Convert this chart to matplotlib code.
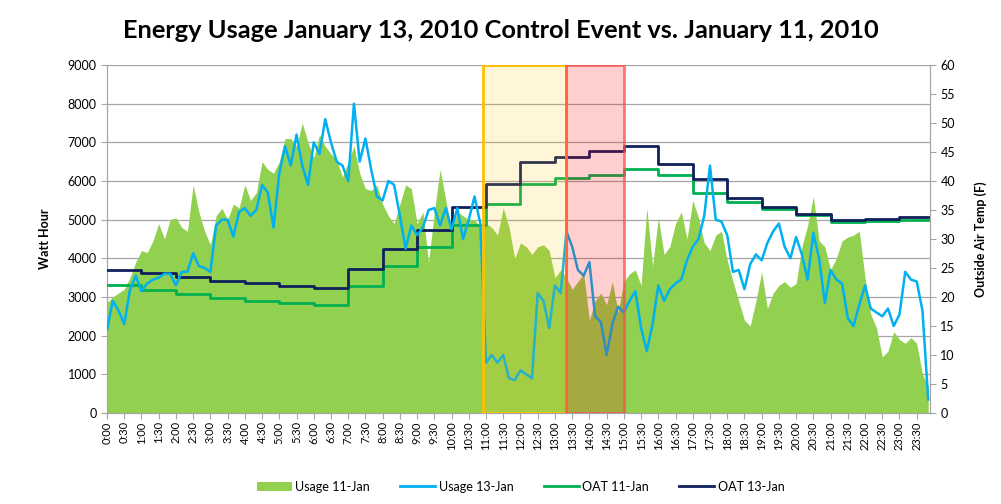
import numpy as np
import matplotlib
matplotlib.use("Agg")
import matplotlib.pyplot as plt
from matplotlib.lines import Line2D
from matplotlib.patches import Patch

plt.rcParams["font.family"] = ["Lato", "DejaVu Sans"]

# --- data ------------------------------------------------------------------
STEP_MIN = 10  # usage sampled every 10 minutes, starting 0:00

USAGE_11JAN = [
    2850, 3000, 3100, 3200, 3500, 3900, 4200, 4150, 4450, 4900, 4500, 5000,
    5050, 4800, 4700, 5900, 5200, 4700, 4350, 5100, 5300, 5000, 5400, 5300,
    5900, 5500, 5700, 6500, 6300, 6200, 6500, 7100, 7100, 6900, 7500, 7000,
    6600, 7200, 6900, 6700, 6550, 6100, 6500, 6900, 6200, 5800, 5750, 5900,
    5400, 5100, 4900, 5400, 5900, 5800, 4900, 5200, 3900, 5200, 6300, 5500,
    4750, 5200, 5100, 5000, 5000, 4800, 4900, 4800, 4600, 5300, 4800, 4000,
    4400, 4300, 4100, 4300, 4350, 4200, 3500, 3700, 3500, 3200, 3400, 3600,
    2400, 2900, 3100, 2800, 3400, 2600, 3400, 3600, 3700, 3300, 5300, 3800,
    5050, 4100, 4300, 4900, 5200, 4500, 5500, 5050, 4400, 4200, 4600, 4700,
    3950, 3400, 2900, 2400, 2250, 2900, 3650, 2700, 3100, 3300, 3400, 3250,
    3350, 4300, 4850, 5600, 4450, 4300, 3700, 4000, 4450, 4550, 4600, 4700,
    3500, 2550, 2200, 1450, 1600, 2100, 1900, 1800, 1950, 1800, 1000, 700,
]

USAGE_13JAN = [
    2150, 2900, 2650, 2300, 3180, 3550, 3150, 3350, 3450, 3500, 3600, 3600,
    3300, 3650, 3650, 4130, 3800, 3750, 3650, 4850, 5000, 5000, 4560, 5200,
    5300, 5100, 5250, 5900, 5700, 4800, 6200, 6900, 6400, 7200, 6400, 5900,
    7000, 6700, 7600, 7000, 6500, 6400, 6000, 8000, 6500, 7100, 6300, 5600,
    5500, 6000, 5900, 5100, 4250, 4850, 4600, 4800, 5250, 5300, 4850, 5300,
    4750, 5300, 4500, 5000, 5600, 4900, 1300, 1500, 1300, 1500, 900, 850,
    1100, 1000, 900, 3100, 2900, 2200, 3300, 3100, 4700, 4300, 3700, 3550,
    3900, 2500, 2350, 1500, 2300, 2750, 2600, 2900, 3150, 2200, 1600, 2300,
    3300, 2900, 3200, 3350, 3450, 3950, 4300, 4500, 5100, 6400, 5000, 4950,
    4600, 3650, 3700, 3200, 3850, 4100, 3950, 4400, 4700, 4900, 4300, 4000,
    4550, 4100, 3450, 4650, 4000, 2850, 3700, 3450, 3350, 2450, 2250, 2800,
    3300, 2700, 2600, 2500, 2700, 2250, 2550, 3650, 3450, 3400, 2650, 350,
]

# hourly outside air temperature (F), hours 0..23
OAT_11JAN = [22.0, 21.2, 20.5, 19.8, 19.3, 19.0, 18.7, 21.9, 25.3, 28.7, 32.4, 36.0,
             39.5, 40.5, 41.1, 42.1, 41.0, 38.0, 36.3, 35.2, 34.1, 33.0, 33.1, 33.2]
OAT_13JAN = [24.7, 24.1, 23.4, 22.8, 22.4, 21.9, 21.5, 24.8, 28.2, 31.5, 35.6, 39.5,
             43.2, 44.1, 45.2, 46.1, 43.0, 40.3, 37.0, 35.6, 34.3, 33.3, 33.4, 33.8]

# highlighted periods (minutes after midnight)
PRECOOL_SPAN = (655, 800)
EVENT_SPAN = (800, 900)

TICK_MIN = list(range(0, 24 * 60, 30))
TICK_LABELS = [f"{m // 60}:{m % 60:02d}" for m in TICK_MIN]

C_AREA = "#92D050"
C_BLUE = "#00B0F0"
C_GREEN = "#00B050"
C_NAVY = "#0F1F5C"
C_GRID = "#A6A6A6"

fig = plt.figure(figsize=(10.01, 5.04), dpi=100)
ax = fig.add_axes([0.1069, 0.1806, 0.8221, 0.6904])
ax2 = ax.twinx()

t = np.arange(len(USAGE_11JAN)) * STEP_MIN
ax.fill_between(t, 0, USAGE_11JAN, color=C_AREA, lw=0, zorder=2)

t_hr = np.append(np.arange(len(OAT_11JAN)) * 60, t[-1])
ax2.plot(t_hr, OAT_11JAN + OAT_11JAN[-1:], color=C_GREEN, lw=2.0,
         drawstyle="steps-post", zorder=3)
ax2.plot(t_hr, OAT_13JAN + OAT_13JAN[-1:], color=C_NAVY, lw=2.0,
         drawstyle="steps-post", zorder=3)
ax2.plot(t, np.array(USAGE_13JAN) * 60 / 9000, color=C_BLUE, lw=1.8, zorder=4)

ax2.axvspan(*PRECOOL_SPAN, facecolor=(1.0, 0.75, 0.0, 0.15),
            edgecolor="#FFC000", lw=2.0, zorder=6)
ax2.axvspan(*EVENT_SPAN, facecolor=(1.0, 0.0, 0.0, 0.19),
            edgecolor=(1.0, 0.3, 0.3, 0.75), lw=2.0, zorder=6)

ax.set_xlim(0, 1433)
ax.set_ylim(0, 9000)
ax.set_yticks(range(0, 9001, 1000))
ax2.set_ylim(0, 60)
ax2.set_yticks(range(0, 61, 5))
ax.set_xticks(TICK_MIN)
ax.set_xticklabels(TICK_LABELS, rotation=90, fontsize=8)

ax.grid(axis="y", color=C_GRID, lw=0.9, zorder=0)
ax.set_axisbelow(True)
for a in (ax, ax2):
    a.spines["top"].set_visible(False)
    for sp in ("left", "right", "bottom"):
        a.spines[sp].set_color(C_GRID)
    a.tick_params(colors=C_GRID, labelcolor="black", labelsize=9, length=4)
ax.tick_params(axis="x", labelsize=8, pad=2)

ax.set_ylabel("Watt Hour", fontsize=9, fontweight="bold", labelpad=12)
ax2.set_ylabel("Outside Air Temp (F)", fontsize=9, fontweight="bold", labelpad=14)

fig.suptitle("Energy Usage January 13, 2010 Control Event vs. January 11, 2010",
             fontsize=18.3, fontweight="bold", y=0.962)

handles = [
    Patch(facecolor=C_AREA, edgecolor="none"),
    Line2D([0], [0], color=C_BLUE, lw=2),
    Line2D([0], [0], color=C_GREEN, lw=2),
    Line2D([0], [0], color=C_NAVY, lw=2),
]
labels = ["Usage 11-Jan", "Usage 13-Jan", "OAT 11-Jan", "OAT 13-Jan"]
fig.legend(handles, labels, loc="center", bbox_to_anchor=(0.52, 0.034), ncol=4,
           frameon=False, fontsize=9, handlelength=2.8, columnspacing=2.4,
           handletextpad=0.3)

fig.savefig("out.png", dpi=100)
